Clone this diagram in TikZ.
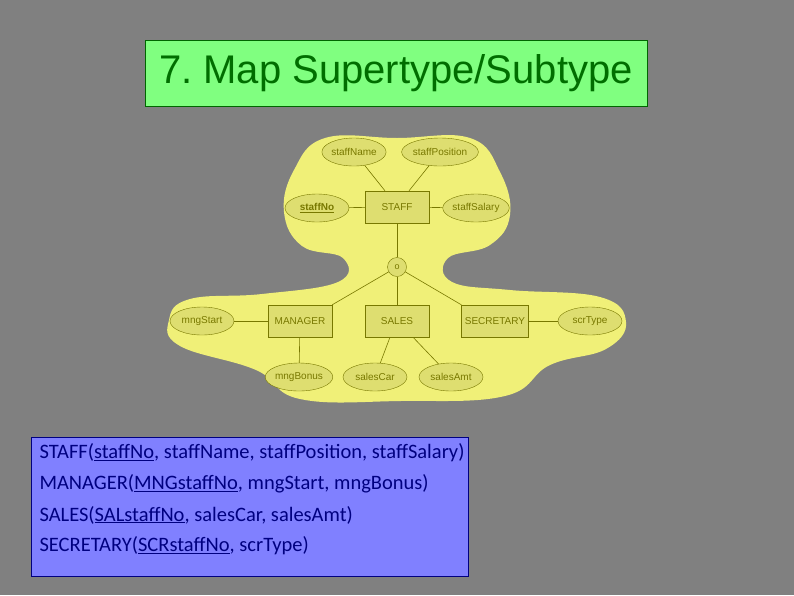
\documentclass[tikz,border=0pt]{standalone}
\usepackage{fontspec}
\setmainfont{Liberation Sans}
\newfontfamily\relfont{Carlito}
\usetikzlibrary{shapes.geometric}
\frenchspacing
\definecolor{pagegray}{RGB}{128,128,128}
\definecolor{titlegreen}{RGB}{128,255,128}
\definecolor{titletext}{RGB}{0,110,0}
\definecolor{blob}{RGB}{240,240,120}
\definecolor{shapefill}{RGB}{222,222,112}
\definecolor{olive}{RGB}{120,120,0}
\definecolor{relfill}{RGB}{128,128,255}
\definecolor{reltext}{RGB}{0,0,128}
\begin{document}
\begin{tikzpicture}[
x=1pt,y=-1pt,
entity/.style={draw=olive,fill=shapefill,text=olive,minimum width=64pt,minimum height=32pt,font=\fontsize{10}{12}\selectfont},
attr/.style={ellipse,draw=olive,fill=shapefill,text=olive,minimum width=64pt,minimum height=28pt,inner sep=0pt,font=\fontsize{10}{12}\selectfont},
link/.style={draw=olive,line width=0.6pt},
reltxt/.style={anchor=west,text=reltext,font=\relfont\fontsize{20.5}{24}\selectfont}
]
\useasboundingbox[fill=pagegray] (0,0) rectangle (794,595);
% title
\node[draw=black!60!green,fill=titlegreen,minimum width=502pt,minimum height=66pt,
  text=titletext,font=\fontsize{40}{44}\selectfont] (title) at (396,73) {7. Map Supertype/Subtype};
% highlight behind the ER diagram
\fill[blob] plot[smooth cycle,tension=0.7] coordinates {
  (397,138) (470,138) (500,172) (510,215) (490,245) (448,258) (452,282)
  (510,290) (600,297) (626,322) (606,349) (550,365) (505,396) (400,401)
  (300,399) (256,370) (180,346) (169,320) (190,299) (262,294) (338,282)
  (343,258) (302,246) (284,212) (294,170) (325,138)};
% entities
\node[entity] (staff) at (397,207) {STAFF};
\node[entity] (manager) at (300,321) {MANAGER};
\node[entity] (sales) at (397,321) {SALES};
\node[entity] (secretary) at (495,321) {SECRETARY};
\node[circle,draw=olive,fill=shapefill,text=olive,minimum size=19pt,inner sep=0pt,font=\fontsize{9}{10}\selectfont] (disj) at (397,267) {o};
% attributes
\node[attr] (staffName) at (354,152) {staffName};
\node[attr] (staffPosition) at (440,152) {staffPosition};
\node[attr,font=\fontsize{10}{12}\selectfont\bfseries] (staffNo) at (317,208) {\underline{staffNo}};
\node[attr] (staffSalary) at (476,208) {staffSalary};
\node[attr] (mngStart) at (202,321) {mngStart};
\node[attr] (scrType) at (590,321) {scrType};
\node[attr] (mngBonus) at (299,377) {mngBonus};
\node[attr] (salesCar) at (375,377) {salesCar};
\node[attr] (salesAmt) at (451,377) {salesAmt};
% links
\draw[link] (staffName) -- ([xshift=-12pt]staff.north);
\draw[link] (staffPosition) -- ([xshift=12pt]staff.north);
\draw[link] (staffNo) -- (staff);
\draw[link] (staffSalary) -- (staff);
\draw[link] (staff) -- (disj);
\draw[link] (disj) -- (manager.north east);
\draw[link] (disj) -- (sales);
\draw[link] (disj) -- (secretary.north west);
\draw[link] (mngStart) -- (manager);
\draw[link] (secretary) -- (scrType);
\draw[link] (manager) -- (mngBonus);
\draw[link] ([xshift=-7pt]sales.south) -- (salesCar);
\draw[link] ([xshift=16pt]sales.south) -- (salesAmt);
% relations
\node[draw=reltext,fill=relfill,minimum width=437pt,minimum height=139pt,inner sep=0pt] (relbox) at (249.5,506.5) {};
\node[reltxt] (rstaff) at (36,453) {STAFF(\underline{staffNo}, staffName, staffPosition, staffSalary)};
\node[reltxt] (rmanager) at (36,484) {MANAGER(\underline{MNGstaffNo}, mngStart, mngBonus)};
\node[reltxt] (rsales) at (36,515) {SALES(\underline{SALstaffNo}, salesCar, salesAmt)};
\node[reltxt] (rsecretary) at (36,546) {SECRETARY(\underline{SCRstaffNo}, scrType)};
\end{tikzpicture}
\end{document}
